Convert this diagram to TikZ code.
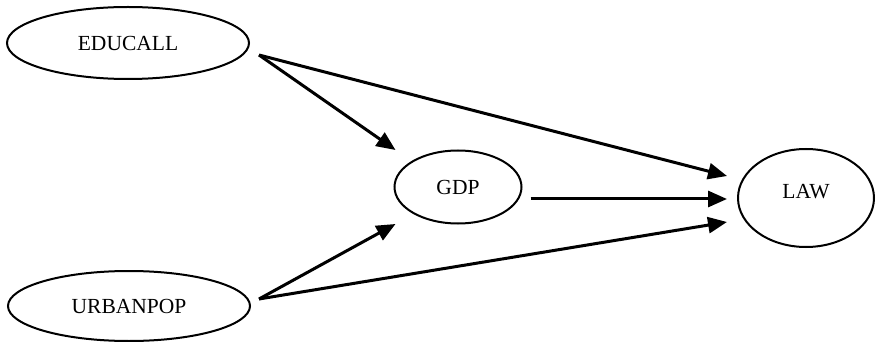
\documentclass[tikz,border=0pt]{standalone}
\usepackage{fontspec}
\setmainfont{Liberation Serif}
\usetikzlibrary{shapes.geometric,arrows.meta,calc}
\tikzset{
  ell/.style={ellipse,draw,line width=2pt,inner sep=0pt,font=\fontsize{21.5}{24}\selectfont},
  conn/.style={line width=3pt,-{Triangle[length=19pt,width=16pt]}}
}
\begin{document}
\begin{tikzpicture}[x=1pt,y=-1pt]
\useasboundingbox (0,0) rectangle (876,342);
\node[ell,minimum width=242pt,minimum height=72pt] (edu) at (128,43) {EDUCALL};
\node[ell,minimum width=242pt,minimum height=70pt] (urb) at (129,306) {URBANPOP};
\node[ell,minimum width=127pt,minimum height=73pt] (gdp) at (458,187) {GDP};
\node[ell,minimum width=136pt,minimum height=98pt,text depth=14pt] (law) at (806,198) {LAW};
\coordinate (e0) at ($(edu.east)+(9,12)$);
\coordinate (u0) at ($(urb.east)+(8,-7)$);
\coordinate (g0) at ($(gdp.east)+(8,12)$);
\coordinate (gt1) at ($(gdp.west)+(2,-37)$);
\coordinate (gt2) at ($(gdp.west)+(2,37)$);
\coordinate (lt1) at ($(law.west)+(-10,-22)$);
\coordinate (lt2) at ($(law.west)+(-10,1)$);
\coordinate (lt3) at ($(law.west)+(-10,24)$);
\draw[conn] (e0) -- (gt1);
\draw[conn] (e0) -- (lt1);
\draw[conn] (g0) -- (lt2);
\draw[conn] (u0) -- (gt2);
\draw[conn] (u0) -- (lt3);
\end{tikzpicture}
\end{document}
